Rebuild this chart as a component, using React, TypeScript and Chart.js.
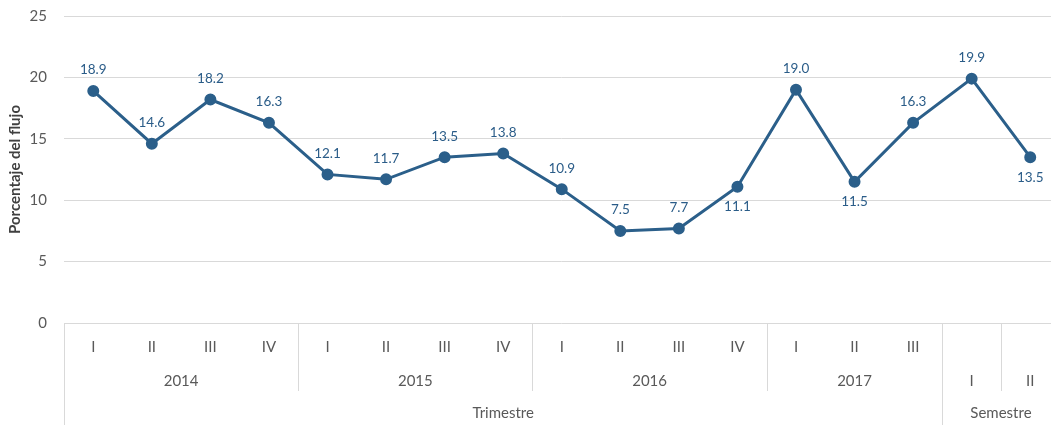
import React, { useEffect, useRef } from "react";
import { Chart, registerables } from "chart.js";
Chart.register(...registerables);

const quarters = ["I", "II", "III", "IV", "I", "II", "III", "IV", "I", "II", "III", "IV", "I", "II", "III", "I", "II"];
const values = [18.9, 14.6, 18.2, 16.3, 12.1, 11.7, 13.5, 13.8, 10.9, 7.5, 7.7, 11.1, 19.0, 11.5, 16.3, 19.9, 13.5];
const yearGroups = [
  { label: "2014", start: 0, end: 3 },
  { label: "2015", start: 4, end: 7 },
  { label: "2016", start: 8, end: 11 },
  { label: "2017", start: 12, end: 14 },
];
const semestreIdx = [15, 16];
const periodGroups = [
  { label: "Trimestre", start: 0, end: 14 },
  { label: "Semestre", start: 15, end: 16 },
];
const belowLabels = [11, 13, 16];
const yTitle = "Porcentaje del flujo";

const FONT = 'Lato, "Open Sans", sans-serif';
const LINE = "#2B5F8A";
const GRID = "#d9d9d9";
const TICK = "#595959";

const multiAxisPlugin = {
  id: "multiAxis",
  afterDraw(chart: any) {
    const ctx = chart.ctx;
    const x = chart.scales.x;
    const area = chart.chartArea;
    const n = quarters.length;
    const step = (x.getPixelForValue(1) - x.getPixelForValue(0));
    const edge = (i: number) => x.getPixelForValue(i) - step / 2;
    const base = area.bottom;
    const row1 = base + 24;
    const row2 = base + 58;
    const row3 = base + 90;
    const midBottom = base + 68;
    const fullBottom = chart.height;

    ctx.save();
    ctx.strokeStyle = GRID;
    ctx.lineWidth = 1;
    const vline = (px: number, y2: number) => {
      const xx = Math.round(px) + 0.5;
      ctx.beginPath();
      ctx.moveTo(xx, base);
      ctx.lineTo(xx, y2);
      ctx.stroke();
    };
    vline(edge(0), fullBottom);
    yearGroups.forEach((g, k) => {
      if (k > 0) vline(edge(g.start), midBottom);
    });
    periodGroups.forEach((g, k) => {
      if (k > 0) vline(edge(g.start), fullBottom);
    });
    semestreIdx.forEach((i, k) => {
      if (k > 0) vline(edge(i), midBottom);
    });
    vline(edge(n), fullBottom);

    ctx.fillStyle = TICK;
    ctx.font = `15px ${FONT}`;
    ctx.textAlign = "center";
    ctx.textBaseline = "middle";
    quarters.forEach((q, i) => {
      const y = semestreIdx.includes(i) ? row2 : row1;
      ctx.fillText(q, x.getPixelForValue(i), y);
    });
    yearGroups.forEach((g) => {
      ctx.fillText(g.label, (edge(g.start) + edge(g.end + 1)) / 2, row2);
    });
    periodGroups.forEach((g) => {
      ctx.fillText(g.label, (edge(g.start) + edge(g.end + 1)) / 2, row3);
    });

    ctx.save();
    ctx.translate(15, (area.top + area.bottom) / 2);
    ctx.rotate(-Math.PI / 2);
    ctx.font = `bold 15px ${FONT}`;
    ctx.fillStyle = "#404040";
    ctx.fillText(yTitle, 0, 0);
    ctx.restore();

    ctx.restore();
  },
  afterDatasetsDraw(chart: any) {
    const ctx = chart.ctx;
    const meta = chart.getDatasetMeta(0);
    ctx.save();
    ctx.fillStyle = "#2A5C88";
    ctx.font = `13.5px ${FONT}`;
    ctx.textAlign = "center";
    ctx.textBaseline = "middle";
    meta.data.forEach((pt: any, i: number) => {
      const dy = belowLabels.includes(i) ? 20 : -21;
      ctx.fillText(values[i].toFixed(1), pt.x, pt.y + dy);
    });
    ctx.restore();
  },
};

export default function App() {
  const ref = useRef<HTMLCanvasElement>(null);
  useEffect(() => {
    if (!ref.current) return;
    const chart = new Chart(ref.current, {
      type: "line",
      data: {
        labels: quarters.map((q, i) => `${q}-${i}`),
        datasets: [
          {
            data: values,
            borderColor: LINE,
            backgroundColor: LINE,
            pointBackgroundColor: LINE,
            pointBorderColor: LINE,
            borderWidth: 3,
            pointRadius: 4.5,
            tension: 0,
            fill: false,
          },
        ],
      },
      options: {
        animation: false,
        responsive: false,
        devicePixelRatio: 1,
        layout: { padding: { top: 16, right: 0, left: 0, bottom: 0 } },
        plugins: { legend: { display: false }, tooltip: { enabled: false } },
        scales: {
          x: {
            type: "category",
            offset: true,
            grid: { display: false, offset: true },
            border: { display: false },
            ticks: { display: false },
            afterFit: (s: any) => {
              s.height = 102;
              s.paddingLeft = 0;
              s.paddingRight = 0;
            },
          },
          y: {
            min: 0,
            max: 25,
            ticks: { stepSize: 5, color: TICK, font: { family: FONT, size: 15 }, padding: 17 },
            grid: { color: GRID, drawTicks: false },
            border: { display: false },
            afterFit: (s: any) => {
              s.width = 64;
              s.paddingTop = 0;
              s.paddingBottom = 0;
            },
          },
        },
      },
      plugins: [multiAxisPlugin],
    });
    return () => chart.destroy();
  }, []);
  return (
    <div style={{ position: "fixed", left: 0, top: 0, width: 1051, height: 425, overflow: "hidden", background: "#fff" }}>
      <canvas ref={ref} width={1067} height={425} style={{ width: 1067, height: 425, display: "block" }} />
    </div>
  );
}
